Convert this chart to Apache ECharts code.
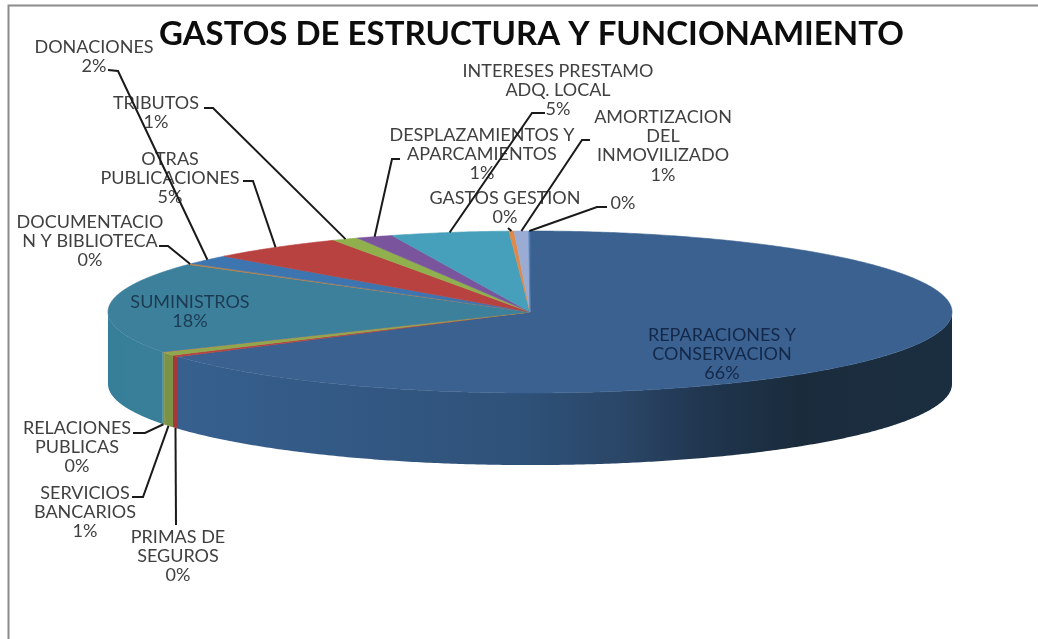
<!DOCTYPE html>
<html>
<head>
<meta charset="utf-8">
<title>Gastos de estructura y funcionamiento</title>
<style>
  html, body { margin: 0; padding: 0; background: #fff; }
  #chart { width: 1038px; height: 639px; }
</style>
</head>
<body>
<div id="chart"></div>
<script src="https://cdn.jsdelivr.net/npm/echarts@6/dist/echarts.min.js"></script>
<script>
const chartTitle = 'GASTOS DE ESTRUCTURA Y FUNCIONAMIENTO';

// clockwise from 12 o'clock, shares in %
const categories = [
  'REPARACIONES Y\nCONSERVACION',
  'PRIMAS DE\nSEGUROS',
  'SERVICIOS\nBANCARIOS',
  'RELACIONES\nPUBLICAS',
  'SUMINISTROS',
  'DOCUMENTACIO\nN Y BIBLIOTECA',
  'DONACIONES',
  'OTRAS\nPUBLICACIONES',
  'TRIBUTOS',
  'DESPLAZAMIENTOS Y\nAPARCAMIENTOS',
  'INTERESES PRESTAMO\nADQ. LOCAL',
  'GASTOS GESTION',
  'AMORTIZACION\nDEL\nINMOVILIZADO',
  ''
];
const shares = [65.7, 0.35, 0.65, 0.1, 18.2, 0.2, 1.9, 5.2, 1, 1.4, 4.5, 0.2, 0.55, 0.05];

const topColors = ['#3a618f', '#b8423f', '#8fa84d', '#c98a45', '#3d809c', '#c0803f', '#3c75b0',
  '#b8423f', '#8fb04d', '#7a559e', '#46a0bb', '#dd8a4a', '#9bacd4', '#4f81bd'];
const wallColors = [
  [[0, '#37608f'], [0.45, '#2e5178'], [0.58, '#2a4566'], [0.68, '#20364f'], [0.8, '#1a2c3c'], [1, '#1b2e40']],
  [[0, '#a5393a'], [1, '#a5393a']],
  [[0, '#7c9347'], [1, '#7c9347']],
  [[0, '#7c9347'], [1, '#7c9347']],
  [[0, '#367e99'], [1, '#3a7f98']]
];

// label block centres and leader elbows, in page pixels
const labelPos = [[722, 354], [178, 556], [85, 512], [77, 447], [190, 312], [90, 241], [94, 57],
  [170, 178], [156, 113], [482, 154], [558, 90], [505, 208], [663, 146], [623, 203]];
const leaderElbows = [null, [[176, 525]], [[132, 497], [143, 497]], [[133, 433], [145, 433]], null,
  [[159, 246], [168, 246]], [[108, 70], [118, 71]], [[243, 181], [253, 181]], [[204, 108], [213, 108]],
  [[400, 159], [392, 159]], [[545, 113], [532, 113]], [[508, 228]], [[590, 140], [582, 140]], [[607, 207], [597, 207]]];

const pieDepth = 0.89; // in pie units, the y axis is squashed by the grid

const total = shares.reduce((a, b) => a + b, 0);
let running = 0;
const sliceAngles = shares.map(v => {
  const start = running / total * 360;
  running += v;
  return [start, running / total * 360];
});

function rimPoint(api, deg, drop) {
  const rad = deg * Math.PI / 180;
  return api.coord([Math.sin(rad), Math.cos(rad) - (drop || 0)]);
}

function arc(api, from, to, drop) {
  const pts = [];
  const steps = Math.max(2, Math.ceil(Math.abs(to - from) / 0.5));
  for (let s = 0; s <= steps; s++) {
    pts.push(rimPoint(api, from + (to - from) * s / steps, drop));
  }
  return pts;
}

function renderWall(params, api) {
  const [a0, a1] = sliceAngles[params.dataIndex];
  const from = Math.max(a0, 90);
  const to = Math.min(a1, 270);
  if (to <= from || !wallColors[params.dataIndex]) return null;
  const stops = wallColors[params.dataIndex].map(s => ({ offset: s[0], color: s[1] }));
  const pts = arc(api, from, to, 0).concat(arc(api, to, from, pieDepth));
  return {
    type: 'polygon',
    shape: { points: pts },
    style: { fill: new echarts.graphic.LinearGradient(0, 0, 1, 0, stops) }
  };
}

function renderTop(params, api) {
  const [a0, a1] = sliceAngles[params.dataIndex];
  const color = topColors[params.dataIndex];
  return {
    type: 'polygon',
    shape: { points: [api.coord([0, 0])].concat(arc(api, a0, a1, 0)) },
    style: { fill: color, stroke: color, lineWidth: 0.6 }
  };
}

function renderLabel(params, api) {
  const i = params.dataIndex;
  const name = categories[i];
  const text = (name ? name + '\n' : '') + Math.round(shares[i]) + '%';
  return {
    type: 'text',
    style: {
      text: text,
      x: labelPos[i][0],
      y: labelPos[i][1],
      align: 'center',
      verticalAlign: 'middle',
      fontFamily: 'Lato',
      fontSize: 18,
      lineHeight: 19.3,
      fill: i === 0 ? '#14284a' : i === 4 ? '#1c3a52' : '#404040'
    }
  };
}

function renderLeader(params, api) {
  const i = params.dataIndex;
  if (!leaderElbows[i]) return null;
  const [a0, a1] = sliceAngles[i];
  const mid = (a0 + a1) / 2;
  const drop = mid > 90 && mid < 270 ? pieDepth : 0;
  return {
    type: 'polyline',
    shape: { points: leaderElbows[i].concat([rimPoint(api, mid, drop)]) },
    style: { stroke: '#1a1a1a', lineWidth: 2, fill: null }
  };
}

function layer(name, renderItem, z) {
  return {
    type: 'custom',
    name: name,
    coordinateSystem: 'cartesian2d',
    data: shares.map((v, i) => ({ name: categories[i], value: [0, 0, v] })),
    renderItem: renderItem,
    clip: false,
    silent: true,
    z: z
  };
}

const chart = echarts.init(document.getElementById('chart'));
chart.setOption({
  animation: false,
  backgroundColor: '#fff',
  title: {
    text: chartTitle,
    left: 154,
    top: 13,
    textStyle: { fontFamily: 'Lato', fontSize: 33, fontWeight: 'bold', color: '#0d0d0d' }
  },
  grid: { left: 108, width: 844, top: 231, height: 162 },
  xAxis: { type: 'value', min: -1, max: 1, show: false },
  yAxis: { type: 'value', min: -1, max: 1, show: false },
  graphic: [
    { type: 'polyline', shape: { points: [[8.5, 639], [8.5, 5.5], [1038, 5.5]] },
      style: { stroke: '#8c8c8c', lineWidth: 2, fill: null }, z: 1 }
  ],
  series: [
    layer('lados', renderWall, 2),
    layer('sectores', renderTop, 3),
    layer('etiquetas', renderLabel, 4),
    layer('guias', renderLeader, 5)
  ]
});
</script>
</body>
</html>
